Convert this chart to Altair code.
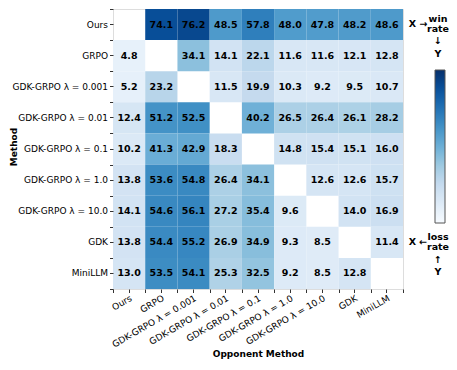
import altair as alt
import pandas as pd

methods = ["Ours", "GRPO", "GDK-GRPO λ = 0.001", "GDK-GRPO λ = 0.01", "GDK-GRPO λ = 0.1",
           "GDK-GRPO λ = 1.0", "GDK-GRPO λ = 10.0", "GDK", "MiniLLM"]

row_ours = [None, 74.1, 76.2, 48.5, 57.8, 48.0, 47.8, 48.2, 48.6]
row_grpo = [4.8, None, 34.1, 14.1, 22.1, 11.6, 11.6, 12.1, 12.8]
row_l0001 = [5.2, 23.2, None, 11.5, 19.9, 10.3, 9.2, 9.5, 10.7]
row_l001 = [12.4, 51.2, 52.5, None, 40.2, 26.5, 26.4, 26.1, 28.2]
row_l01 = [10.2, 41.3, 42.9, 18.3, None, 14.8, 15.4, 15.1, 16.0]
row_l1 = [13.8, 53.6, 54.8, 26.4, 34.1, None, 12.6, 12.6, 15.7]
row_l10 = [14.1, 54.6, 56.1, 27.2, 35.4, 9.6, None, 14.0, 16.9]
row_gdk = [13.8, 54.4, 55.2, 26.9, 34.9, 9.3, 8.5, None, 11.4]
row_minillm = [13.0, 53.5, 54.1, 25.3, 32.5, 9.2, 8.5, 12.8, None]

rows = [row_ours, row_grpo, row_l0001, row_l001, row_l01, row_l1, row_l10, row_gdk, row_minillm]

blues = ["#f7fbff", "#deebf7", "#c6dbef", "#9ecae1", "#6baed6",
         "#4292c6", "#2171b5", "#08519c", "#08306b"]

records = []
for i, m in enumerate(methods):
    for j, o in enumerate(methods):
        v = rows[i][j]
        if v is not None:
            records.append({"Method": m, "Opponent": o, "value": v, "label": f"{v:.1f}"})
df = pd.DataFrame(records)

FONT = "DejaVu Sans"
W, H = 290, 280

x_main = alt.X("Opponent:N", sort=methods, title="Opponent Method",
               scale=alt.Scale(domain=methods, paddingInner=0, paddingOuter=0),
               axis=alt.Axis(orient="bottom", labelAngle=330, labelAlign="right", labelBaseline="top",
                             labelFontSize=9, labelFont=FONT, labelColor="black",
                             titleFont=FONT, titleFontSize=9, titleFontWeight="bold", titleColor="black",
                             tickSize=3.5, tickColor="#333", domain=False, labelPadding=1,
                             titlePadding=1))
y_main = alt.Y("Method:N", sort=methods, title=None,
               scale=alt.Scale(domain=methods, paddingInner=0, paddingOuter=0),
               axis=alt.Axis(orient="left", labelFontSize=9, labelFont=FONT, labelColor="black",
                             tickSize=3.5, tickColor="#333", domain=False, labelPadding=2))

heat = alt.Chart(df).mark_rect().encode(
    x=x_main,
    y=y_main,
    color=alt.Color("value:Q",
                    scale=alt.Scale(domain=[-2, 84], range=blues, interpolate="rgb"),
                    legend=alt.Legend(orient="none", legendX=322, legendY=61, title=None,
                                      direction="vertical", gradientLength=153,
                                      gradientThickness=10, labelOpacity=0,
                                      labelFontSize=1, gradientStrokeColor="#555",
                                      gradientStrokeWidth=1)),
)

x_minor = alt.X("Opponent:N", sort=methods, title=None,
                scale=alt.Scale(domain=methods, paddingInner=0, paddingOuter=0),
                axis=alt.Axis(orient="bottom", labels=False, tickBand="extent", tickSize=3.5,
                              tickColor="#333", domain=False))
y_minor = alt.Y("Method:N", sort=methods, title=None,
                scale=alt.Scale(domain=methods, paddingInner=0, paddingOuter=0),
                axis=alt.Axis(orient="left", labels=False, tickBand="extent", tickSize=3.5,
                              tickColor="#333", domain=False))

text = alt.Chart(df).mark_text(font=FONT, fontSize=9.5, fontWeight="bold", color="black").encode(
    x=x_minor, y=y_minor, text="label:N"
)

ann_text = ["X →", "win", "rate", "↓", "Y", "X ←", "loss", "rate", "↑", "Y"]
ann_x = [305, 325, 325, 325, 325, 305, 325, 325, 325, 325]
ann_y = [15, 10, 20, 32, 45, 233, 228, 238, 251, 263]
ann_df = pd.DataFrame({"t": ann_text, "px": ann_x, "py": ann_y})

ann = alt.Chart(ann_df).mark_text(font=FONT, fontSize=9.5, fontWeight="bold", color="black").encode(
    x=alt.X("px:Q", scale=None, axis=None),
    y=alt.Y("py:Q", scale=None, axis=None),
    text="t:N",
)

ytitle_df = pd.DataFrame({"t": ["Method"], "px": [-99], "py": [138]})
ytitle = alt.Chart(ytitle_df).mark_text(font=FONT, fontSize=9, fontWeight="bold", color="black",
                                        angle=270).encode(
    x=alt.X("px:Q", scale=None, axis=None),
    y=alt.Y("py:Q", scale=None, axis=None),
    text="t:N",
)

chart = alt.layer(heat, text, ann, ytitle).resolve_axis(x="independent", y="independent").properties(
    width=W, height=H,
    autosize=alt.AutoSizeParams(type="none"),
    padding={"left": 105, "top": 1, "right": 46, "bottom": 73},
).configure_view(stroke="#444", strokeWidth=1).configure(font=FONT)

chart.save("out.html", embed_options={"renderer": "svg", "actions": False})
